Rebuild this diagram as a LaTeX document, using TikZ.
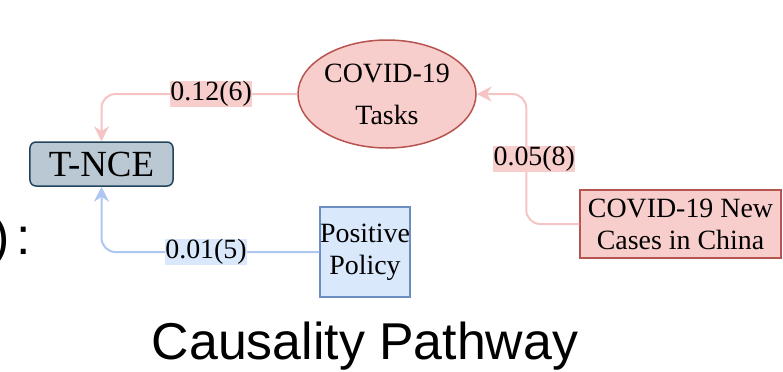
\documentclass[tikz,border=0pt]{standalone}
\usepackage{fontspec}
\setmainfont{Liberation Serif}
\newfontfamily\arialfont{Liberation Sans}
\usetikzlibrary{shapes.geometric,arrows.meta}
\definecolor{redfill}{HTML}{F8CECC}
\definecolor{redline}{HTML}{B85450}
\definecolor{bluefill}{HTML}{DAE8FC}
\definecolor{blueline}{HTML}{6C8EBF}
\definecolor{greyfill}{HTML}{BAC8D3}
\definecolor{greyline}{HTML}{23445D}
\definecolor{redarrow}{HTML}{F6C4C4}
\definecolor{bluearrow}{HTML}{AEC7F2}

\begin{document}
\begin{tikzpicture}[x=1bp,y=-1bp,
  txt/.style={font=\fontsize{28}{32}\selectfont, align=center, inner sep=0pt},
  redbox/.style={txt, draw=redline, fill=redfill, line width=1.5bp},
  bluebox/.style={txt, draw=blueline, fill=bluefill, line width=1.5bp},
  greybox/.style={draw=greyline, fill=greyfill, line width=1.5bp, rounded corners=6bp,
    inner sep=0pt, font=\fontsize{37}{40}\selectfont},
  edge/.style={line width=2bp, rounded corners=14bp, -{Stealth[length=15bp,width=15bp,inset=5bp]}},
  weight/.style={txt, inner sep=0.5bp, sharp corners, text=black}
]
\clip (0,0) rectangle (783,371);

%nodes
\node[greybox, minimum width=143bp, minimum height=44bp] (tnce) at (101.5,164) {T-NCE};
\node[redbox, ellipse, minimum width=178bp, minimum height=108bp] (tasks) at (387,94) {COVID-19\\[10bp]Tasks};
\node[redbox, minimum width=201bp, minimum height=68bp] (cases) at (680.5,224) {COVID-19 New\\Cases in China};
\node[bluebox, minimum width=90bp, minimum height=90bp] (policy) at (365,252) {Positive\\Policy};

%edges
\draw[edge, redarrow] (tasks.west) -| (tnce.north)
  node[weight, fill=redfill, pos=0.22] {0.12(6)};
\draw[edge, redarrow] (cases.west) -- ++(-53,0) |- (tasks.east)
  node[weight, fill=redfill, pos=0.25, xshift=8bp] {0.05(8)};
\draw[edge, bluearrow] (policy.west) -| (tnce.south)
  node[weight, fill=bluefill, pos=0.26] {0.01(5)};

%titles
\node[anchor=base west, inner sep=0pt, font=\arialfont\fontsize{52}{56}\selectfont] (colon) at (-8,254) {)\hspace{7bp}:};
\node[anchor=base, inner sep=0pt, font=\arialfont\fontsize{52}{56}\selectfont] (title) at (365,359) {Causality Pathway};

\end{tikzpicture}
\end{document}
